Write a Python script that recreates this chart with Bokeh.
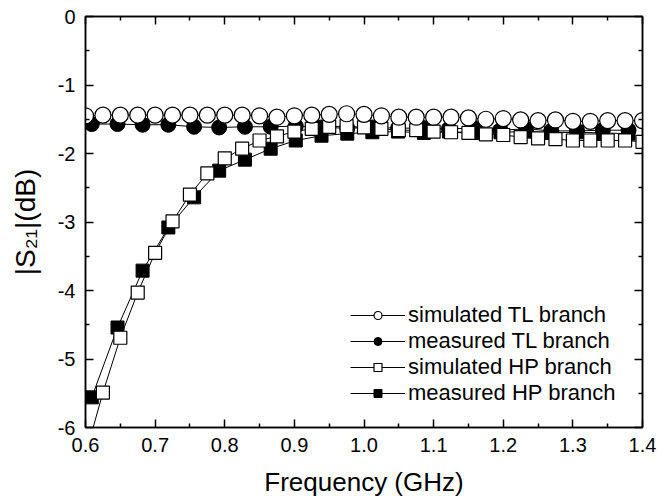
from bokeh.plotting import figure
from bokeh.models import (Range1d, FixedTicker, LinearAxis, Legend, LegendItem,
                          PrintfTickFormatter, CustomJSTickFormatter)
from bokeh.embed import file_html
from bokeh.resources import INLINE

# ---------------- data ----------------
freq_sim = [0.600, 0.625, 0.650, 0.675, 0.700, 0.725, 0.750, 0.775, 0.800, 0.825,
            0.850, 0.875, 0.900, 0.925, 0.950, 0.975, 1.000, 1.025, 1.050, 1.075,
            1.100, 1.125, 1.150, 1.175, 1.200, 1.225, 1.250, 1.275, 1.300, 1.325,
            1.350, 1.375, 1.400]
sim_tl = [-1.45, -1.44, -1.44, -1.44, -1.44, -1.44, -1.44, -1.44, -1.44, -1.44,
          -1.45, -1.47, -1.45, -1.44, -1.43, -1.42, -1.43, -1.45, -1.47, -1.47,
          -1.47, -1.47, -1.48, -1.50, -1.49, -1.51, -1.52, -1.51, -1.53, -1.53,
          -1.52, -1.52, -1.52]
sim_hp = [-6.40, -5.49, -4.69, -4.03, -3.45, -2.99, -2.60, -2.29, -2.07, -1.93,
          -1.81, -1.75, -1.68, -1.64, -1.61, -1.60, -1.62, -1.64, -1.66, -1.66,
          -1.68, -1.69, -1.70, -1.72, -1.73, -1.76, -1.78, -1.79, -1.81, -1.81,
          -1.81, -1.81, -1.83]

freq_meas = [0.609, 0.646, 0.682, 0.719, 0.756, 0.792, 0.829, 0.866, 0.902, 0.939,
             0.976, 1.012, 1.049, 1.086, 1.122, 1.159, 1.196, 1.233, 1.269, 1.306,
             1.343, 1.380]
meas_tl = [-1.57, -1.57, -1.58, -1.58, -1.61, -1.62, -1.61, -1.61, -1.60, -1.62,
           -1.63, -1.62, -1.63, -1.63, -1.64, -1.63, -1.66, -1.64, -1.67, -1.67,
           -1.66, -1.66]
meas_hp = [-5.56, -4.54, -3.71, -3.08, -2.64, -2.25, -2.09, -1.93, -1.81, -1.74,
           -1.71, -1.69, -1.68, -1.70, -1.68, -1.70, -1.69, -1.68, -1.70, -1.69,
           -1.70, -1.71]

x_ticks = [0.6, 0.7, 0.8, 0.9, 1.0, 1.1, 1.2, 1.3, 1.4]
x_minor = [0.65, 0.75, 0.85, 0.95, 1.05, 1.15, 1.25, 1.35]
y_ticks = [-6, -5, -4, -3, -2, -1, 0]
y_minor = [-5.5, -4.5, -3.5, -2.5, -1.5, -0.5]

labels = ["simulated TL branch", "measured TL branch",
          "simulated HP branch", "measured HP branch"]
x_title = "Frequency (GHz)"
y_title = "|S\u2082\u2081|(dB)"

FONT = "Liberation Sans"

# ---------------- figure ----------------
p = figure(width=657, height=504, output_backend="svg", toolbar_location=None,
           x_range=Range1d(0.6, 1.4), y_range=Range1d(-6, 0),
           min_border_left=85, min_border_right=15, min_border_top=16,
           min_border_bottom=77)
p.background_fill_color = "white"
p.border_fill_color = "white"
p.outline_line_color = "black"
p.outline_line_width = 1.5
p.xgrid.visible = False
p.ygrid.visible = False

xt = FixedTicker(ticks=x_ticks, minor_ticks=x_minor)
yt = FixedTicker(ticks=y_ticks, minor_ticks=y_minor)


def style_axis(ax, show_labels):
    ax.axis_line_color = "black"
    ax.axis_line_width = 1.5
    ax.major_tick_in = 8
    ax.major_tick_out = 0
    ax.minor_tick_in = 4
    ax.minor_tick_out = 0
    ax.major_tick_line_color = "black"
    ax.minor_tick_line_color = "black"
    ax.major_tick_line_width = 1.5
    ax.minor_tick_line_width = 1.5
    ax.major_label_text_font = FONT
    ax.major_label_text_color = "black"
    ax.major_label_text_font_size = "20px"
    if show_labels:
        ax.major_label_standoff = 10
    else:
        ax.formatter = CustomJSTickFormatter(code="return ''")
        ax.major_label_standoff = 0


xa = p.xaxis[0]
xa.ticker = xt
style_axis(xa, True)
xa.formatter = PrintfTickFormatter(format="%.1f")
xa.axis_label = x_title
xa.axis_label_text_font = FONT
xa.axis_label_text_font_size = "26px"
xa.axis_label_text_font_style = "normal"
xa.axis_label_text_color = "black"
xa.axis_label_standoff = 12

ya = p.yaxis[0]
ya.ticker = yt
style_axis(ya, True)
ya.formatter = PrintfTickFormatter(format="%d")
ya.axis_label = y_title
ya.axis_label_text_font = FONT
ya.axis_label_text_font_size = "28px"
ya.axis_label_text_font_style = "normal"
ya.axis_label_text_color = "black"
ya.axis_label_standoff = 14

top = LinearAxis(ticker=xt)
style_axis(top, False)
p.add_layout(top, "above")
right = LinearAxis(ticker=yt)
style_axis(right, False)
p.add_layout(right, "right")

# ---------------- series (bottom to top) ----------------
l_mhp = p.line(freq_meas, meas_hp, line_color="black", line_width=1)
s_mhp = p.scatter(freq_meas, meas_hp, marker="square", size=13,
                  fill_color="black", line_color="black", line_width=1)
l_mtl = p.line(freq_meas, meas_tl, line_color="black", line_width=1)
s_mtl = p.scatter(freq_meas, meas_tl, marker="circle", size=15,
                  fill_color="black", line_color="black", line_width=1)
l_shp = p.line(freq_sim, sim_hp, line_color="black", line_width=1)
s_shp = p.scatter(freq_sim, sim_hp, marker="square", size=13,
                  fill_color="white", line_color="black", line_width=1.2)
l_stl = p.line(freq_sim, sim_tl, line_color="black", line_width=1)
s_stl = p.scatter(freq_sim, sim_tl, marker="circle", size=16,
                  fill_color="white", line_color="black", line_width=1.2)

legend = Legend(items=[
    LegendItem(label=labels[0], renderers=[l_stl, s_stl]),
    LegendItem(label=labels[1], renderers=[l_mtl, s_mtl]),
    LegendItem(label=labels[2], renderers=[l_shp, s_shp]),
    LegendItem(label=labels[3], renderers=[l_mhp, s_mhp]),
], location=(265, 21))
legend.border_line_color = None
legend.background_fill_alpha = 0
legend.label_text_font = FONT
legend.label_text_font_size = "22px"
legend.label_text_color = "black"
legend.glyph_width = 55
legend.glyph_height = 20
legend.label_height = 26
legend.label_standoff = 3
legend.spacing = 0
legend.padding = 0
legend.margin = 0
p.add_layout(legend, "center")

open("out.html", "w").write(file_html(p, INLINE))
